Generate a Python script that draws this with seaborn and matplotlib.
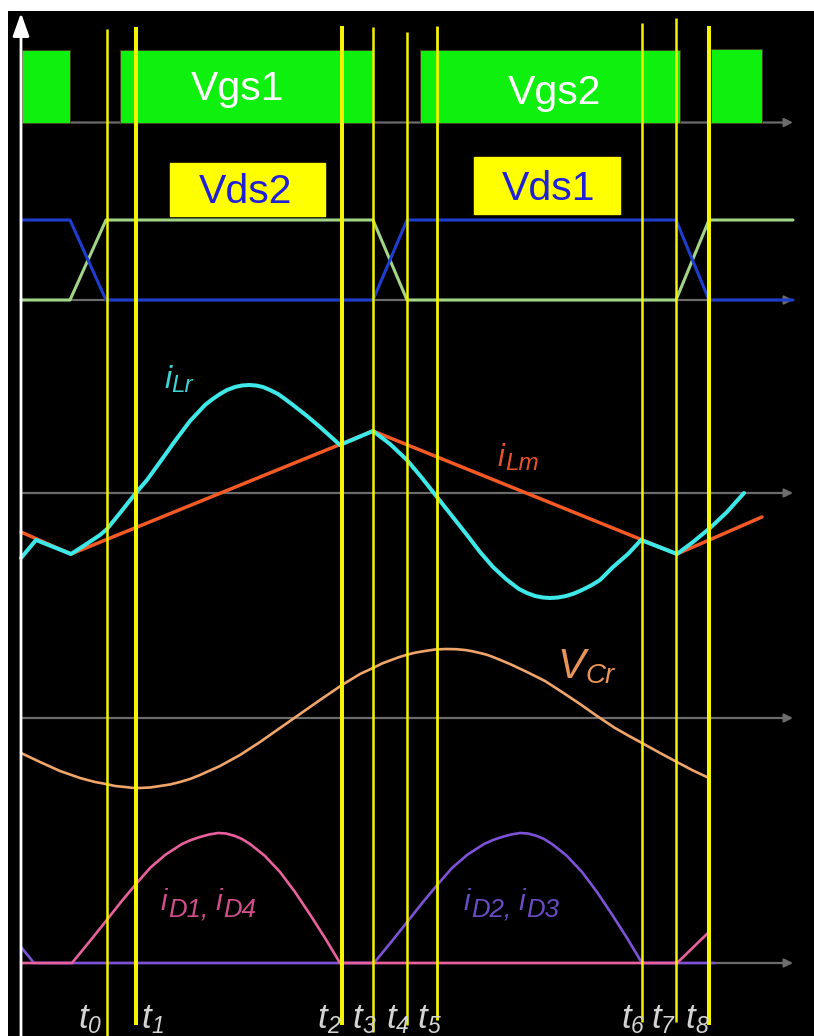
import numpy as np
import matplotlib
matplotlib.use("Agg")
import matplotlib.pyplot as plt
from matplotlib.patches import Rectangle
import seaborn as sns

# ---- data (time axis in arbitrary units) ----
t_marks = [107, 136, 342, 373, 407, 437, 642, 676, 709]
t_names = ["0", "1", "2", "3", "4", "5", "6", "7", "8"]

# gate pulses
vgs_start = [22, 120, 420, 711]
vgs_end = [70, 373, 680, 762]
vgs_amp = [73, 73, 73, 74]

# drain-source voltages
vds_t = [21, 70, 106, 373, 407, 676, 709, 793]
vds1 = [80, 80, 0, 0, 80, 80, 0, 0]
vds2 = [0, 0, 80, 80, 0, 0, 80, 80]

# resonant current
ilr_t = [21, 36, 71, 85, 100, 107, 120, 135, 147, 160, 175, 190, 198, 205, 212, 220,
         227, 235, 242, 249, 256, 263, 270, 278, 285, 293, 300, 307, 320, 330, 340,
         373, 390, 407, 422, 437, 452, 467, 480, 493, 500, 506, 513, 519, 527, 535,
         543, 550, 558, 566, 574, 582, 591, 600, 613, 628, 641, 677, 693, 710, 727, 744]
ilr_v = [-65, -47, -61, -52, -42, -36, -20, -1, 13, 31, 52, 72, 80.5, 88, 93.5, 99,
         103, 106, 107.5, 108, 107.5, 106, 103, 99, 94, 88, 82.5, 77, 66, 57, 48,
         62, 49, 33, 15, -4, -23, -42, -59, -74, -80.5, -86, -91.5, -96, -100, -103,
         -104.5, -105, -104.5, -103, -100.5, -97, -92.5, -87, -74, -61, -47, -61, -49, -35, -19, 0]

# magnetising current
ilm_t = [21, 71, 373, 677, 762]
ilm_v = [-39, -61, 62, -61, -24]

# resonant capacitor voltage
vcr_t = [21, 40, 60, 80, 95, 106, 115, 125, 132, 140, 150, 160, 170, 180, 190, 200,
         220, 240, 260, 280, 300, 320, 342, 360, 373, 382, 390, 398, 406, 415, 425,
         435, 446, 456, 465, 472, 480, 487, 493, 510, 527, 545, 562, 580, 597, 615,
         630, 642, 660, 675, 692, 709]
vcr_v = [-35, -44, -53, -60, -64, -66, -68, -69, -69.8, -70, -69.5, -68, -66.5, -64, -61, -57,
         -48, -37, -24, -10, 4, 18, 33, 44, 50, 54.5, 57.5, 60.5, 63, 65.3, 67,
         68.5, 69, 68.8, 68, 66.8, 65, 63.2, 61, 54, 46, 37, 26, 14, 2, -10,
         -18.5, -25, -35, -43, -52, -60]

# rectifier diode currents
id14_t = [21, 72, 90, 106, 121, 136, 150, 165, 182, 191, 200, 209, 218, 226, 235,
          242, 250, 257, 265, 272, 280, 295, 311, 325, 340, 677, 709]
id14_v = [0, 0, 22, 42, 61, 79, 95, 108, 119, 123, 126, 128.5, 130, 129.5, 127,
          124, 119, 113.5, 107, 99.5, 91, 71, 47, 25, 0, 0, 31]
id23_t = [21, 34, 374, 392, 408, 423, 438, 452, 467, 484, 493, 502, 511, 520, 528,
          537, 544, 552, 559, 567, 574, 582, 597, 613, 627, 642, 715]
id23_v = [16, 0, 0, 22, 42, 61, 79, 95, 108, 119, 123, 126, 128.5, 130, 129.5,
          127, 124, 119, 113.5, 107, 99.5, 91, 71, 47, 25, 0, 0]

# ---- layout ----
W, H = 814, 1036
base = {"vgs": 913.5, "vds": 736, "ilr": 543, "vcr": 318, "id": 73}
line_top = [1007, 1009, 1010, 1009, 1004, 1010, 1013, 1018, 1010]
line_bot = [0, 11, 11, 4, 11, 16, 14, 14, 11]
line_w = [1.8, 2.9, 2.9, 1.8, 1.8, 2.0, 1.8, 1.8, 2.9]
label_dx = [-29, 5, -25, -21, -21, -20, -21, -25, -24]

sns.set_theme(style="dark")
plt.rcParams["font.family"] = ["Liberation Sans", "DejaVu Sans"]

fig = plt.figure(figsize=(W / 100, H / 100), dpi=100, facecolor="white")
ax = fig.add_axes([8 / W, 0, (W - 8) / W, (H - 11) / H])
ax.set_facecolor("black")
ax.set_xlim(8, 814)
ax.set_ylim(0, 1025)
ax.set_xticks([])
ax.set_yticks([])
for s in ax.spines.values():
    s.set_visible(False)

# zero lines with arrow heads
for b in base.values():
    ax.annotate("", xy=(793, b), xytext=(21, b),
                arrowprops=dict(arrowstyle="-|>,head_length=0.5,head_width=0.25",
                                color="#6c6c6c", lw=1.6, mutation_scale=10,
                                shrinkA=0, shrinkB=0), zorder=1)
# vertical axis
ax.annotate("", xy=(21, 1023), xytext=(21, 0),
            arrowprops=dict(arrowstyle="-|>,head_length=0.7,head_width=0.25",
                            color="white", lw=2.0, mutation_scale=20,
                            shrinkA=0, shrinkB=0), zorder=6)

# gate pulses
ax.bar(vgs_start, vgs_amp, width=np.subtract(vgs_end, vgs_start), bottom=base["vgs"],
       align="edge", color="#0ef00e", edgecolor="#4a3320", linewidth=0.6, zorder=2)
ax.text(238, 936, "Vgs1", color="white", fontsize=29.5, ha="center", va="baseline", zorder=7)
ax.text(555, 932, "Vgs2", color="white", fontsize=29.5, ha="center", va="baseline", zorder=7)

line_kw = dict(ax=ax, estimator=None, sort=False, zorder=3, solid_joinstyle="round")

# Vds traces
sns.lineplot(x=vds_t, y=np.add(vds2, base["vds"]), color="#a2d686", linewidth=2.2, **line_kw)
sns.lineplot(x=vds_t, y=np.add(vds1, base["vds"]), color="#1e3ed2", linewidth=2.2, **line_kw)
ax.add_patch(Rectangle((170, 820), 154.5, 53, color="#ffff00", zorder=4))
ax.add_patch(Rectangle((474, 822), 146, 57, color="#ffff00", zorder=4))
ax.text(246, 833, "Vds2", color="#2020d8", fontsize=29.5, ha="center", va="baseline", zorder=7)
ax.text(549, 836, "Vds1", color="#2020d8", fontsize=29.5, ha="center", va="baseline", zorder=7)

# currents and capacitor voltage
sns.lineplot(x=ilm_t, y=np.add(ilm_v, base["ilr"]), color="#f55a25", linewidth=2.5, **line_kw)
sns.lineplot(x=ilr_t, y=np.add(ilr_v, base["ilr"]), color="#3fe8e8", linewidth=2.9, **line_kw)
sns.lineplot(x=vcr_t, y=np.add(vcr_v, base["vcr"]), color="#f0a66a", linewidth=1.9, **line_kw)
sns.lineplot(x=id23_t, y=np.add(id23_v, base["id"]), color="#7d52d6", linewidth=1.9, **line_kw)
sns.lineplot(x=id14_t, y=np.add(id14_v, base["id"]), color="#e8609e", linewidth=1.9, **line_kw)

# switching instants
ax.vlines(t_marks, line_bot, line_top, colors="#f4f400", linewidths=line_w, zorder=5)


def sub_label(x, y, parts, color, size, sub_size, drop):
    """italic label made of (text, is_subscript) pieces placed side by side"""
    head = ax.text(x, y, parts[0][0], color=color, fontsize=size, style="italic",
                   va="baseline", ha="left", zorder=7)
    prev = head
    for txt, is_sub in parts[1:]:
        prev = ax.annotate(txt, xy=(1, y), xycoords=(prev, "data"),
                           xytext=(0.3, -drop if is_sub else 0), textcoords="offset points",
                           color=color, fontsize=sub_size if is_sub else size,
                           style="italic", va="baseline", ha="left", zorder=7)
    return head


for t, n, dx in zip(t_marks, t_names, label_dx):
    sub_label(t + dx, 8, [("t", False), (n, True)], "#d4d4d4", 25, 16.5, 3.5)

sub_label(164, 648, [("i", False), ("Lr", True)], "#3fd4d4", 23, 17.5, 3)
sub_label(498, 570, [("i", False), ("Lm", True)], "#e2532a", 22, 17.5, 3)
sub_label(557, 358, [("V", False), ("Cr", True)], "#e89458", 30, 20, 3.5)
sub_label(161, 126, [("i", False), ("D1,", True), (" i", False), ("D4", True)],
          "#d24e8c", 21, 18.5, 5)
sub_label(464, 126, [("i", False), ("D2,", True), (" i", False), ("D3", True)],
          "#6c4cc4", 21, 18.5, 5)

fig.savefig("out.png", dpi=100, facecolor="white")
